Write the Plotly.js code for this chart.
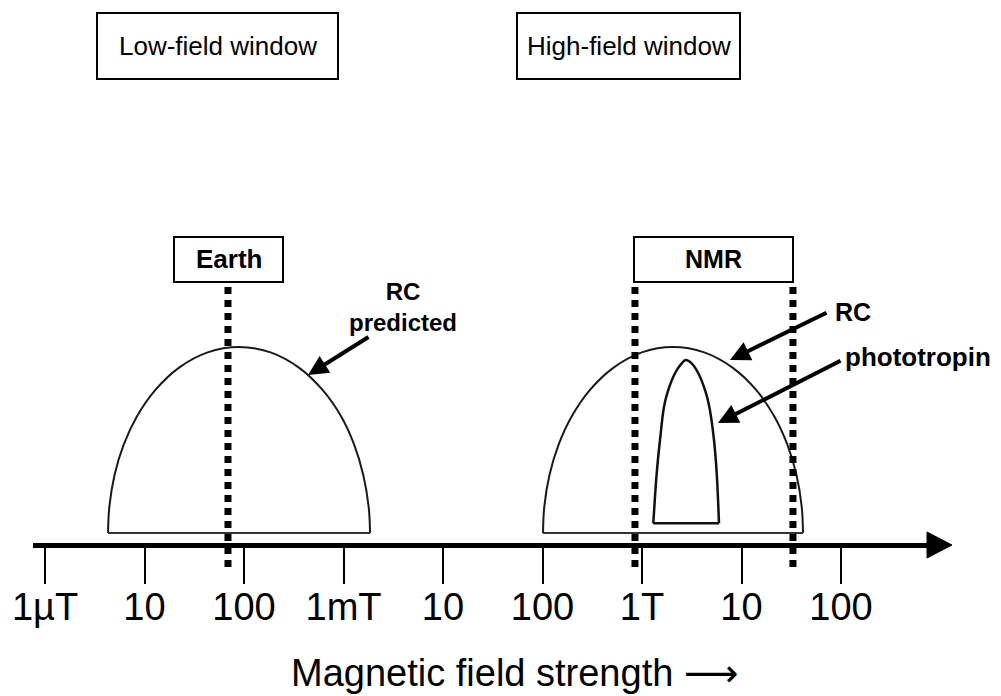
<!DOCTYPE html>
<html>
<head>
<meta charset="utf-8">
<script src="https://cdn.plot.ly/plotly-3.0.1.min.js"></script>
<style>html,body{margin:0;padding:0;background:#fff;}#chart{width:1001px;height:696px;}</style>
</head>
<body>
<div id="chart"></div>
<script>
// ---- data (field strength in tesla, response in relative units) ----
const tickFields = [1e-6, 1e-5, 1e-4, 1e-3, 1e-2, 1e-1, 1, 10, 100];
const tickLabels = ['1\u00b5T', '10', '100', '1mT', '10', '100', '1T', '10', '100'];

const rcPredictedField = [4.30e-6, 4.43e-6, 5.00e-6, 6.18e-6, 8.38e-6, 1.28e-5, 2.21e-5, 4.31e-5, 8.91e-5,
                          1.85e-4, 3.59e-4, 6.19e-4, 9.48e-4, 1.28e-3, 1.58e-3, 1.79e-3, 1.85e-3];
const rcPredictedResponse = [0, 0.141, 0.312, 0.475, 0.626, 0.768, 0.888, 0.971, 1,
                             0.971, 0.888, 0.768, 0.626, 0.475, 0.312, 0.141, 0];

const rcField = [0.1012, 0.1042, 0.1175, 0.1452, 0.1963, 0.2985, 0.514, 0.995, 2.05,
                 4.22, 8.18, 14.1, 21.4, 28.9, 35.7, 40.3, 41.5];
const rcResponse = [0, 0.141, 0.312, 0.475, 0.626, 0.768, 0.888, 0.971, 1,
                    0.971, 0.888, 0.768, 0.626, 0.475, 0.312, 0.141, 0];

const phototropinField = [1.299, 1.405, 1.517, 1.664, 1.838, 2.146, 2.506, 2.749,
                          3.158, 3.68, 4.297, 4.747, 5.292, 5.636, 5.94];
const phototropinResponse = [0.052, 0.321, 0.5, 0.679, 0.769, 0.859, 0.912, 0.930,
                             0.912, 0.859, 0.769, 0.679, 0.5, 0.321, 0.052];

const earthField = [6.9e-5, 6.9e-5];
const nmrLowField = [0.85, 0.85];
const nmrHighField = [32.9, 32.9];
const markerSpan = [1.3226, -0.188];

// ---- layout helpers (pixel -> paper) ----
const W = 1001, H = 696;
const px = x => x / W;
const py = y => 1 - y / H;

const curveLine = {color: '#1a1a1a', width: 2, shape: 'spline', smoothing: 1};
const baseLine = {color: '#333', width: 2};
const dotLine = {color: '#000', width: 7, dash: '7px,6px'};

const traces = [
  {x: rcPredictedField, y: rcPredictedResponse, mode: 'lines', line: curveLine},
  {x: [rcPredictedField[0], rcPredictedField[rcPredictedField.length - 1]], y: [rcPredictedResponse[0], rcPredictedResponse[rcPredictedResponse.length - 1]], mode: 'lines', line: baseLine},
  {x: rcField, y: rcResponse, mode: 'lines', line: curveLine},
  {x: [rcField[0], rcField[rcField.length - 1]], y: [rcResponse[0], rcResponse[rcResponse.length - 1]], mode: 'lines', line: baseLine},
  {x: phototropinField, y: phototropinResponse, mode: 'lines', line: {color: '#111', width: 2.5, shape: 'spline', smoothing: 1}},
  {x: [phototropinField[0], phototropinField[phototropinField.length - 1]], y: [phototropinResponse[0], phototropinResponse[phototropinResponse.length - 1]], mode: 'lines', line: {color: '#111', width: 2.5}},
  {x: earthField, y: markerSpan, mode: 'lines', line: dotLine},
  {x: nmrLowField, y: markerSpan, mode: 'lines', line: dotLine},
  {x: nmrHighField, y: markerSpan, mode: 'lines', line: dotLine}
];

const FONT = 'Liberation Sans, Arial, Helvetica, DejaVu Sans, sans-serif';

function box(x0, y0, x1, y1) {
  return {type: 'rect', xref: 'paper', yref: 'paper', x0: px(x0), x1: px(x1), y0: py(y1), y1: py(y0),
          line: {color: '#000', width: 2}, fillcolor: 'rgba(0,0,0,0)', layer: 'above'};
}
function label(text, x, y, size, bold) {
  return {text: bold ? '<b>' + text + '</b>' : text, xref: 'paper', yref: 'paper', x: px(x), y: py(y),
          xanchor: 'center', yanchor: 'middle', showarrow: false,
          font: {family: FONT, size: size, color: '#000'}};
}
function arrow(tailX, tailY, tipX, tipY) {
  return {text: '', xref: 'paper', yref: 'paper', x: px(tipX), y: py(tipY),
          ax: tailX - tipX, ay: tailY - tipY, showarrow: true,
          arrowhead: 2, arrowsize: 1, arrowwidth: 4, arrowcolor: '#000', standoff: 0};
}

const layout = {
  width: W, height: H,
  margin: {l: 0, r: 0, t: 0, b: 0},
  paper_bgcolor: '#fff', plot_bgcolor: '#fff',
  showlegend: false,
  xaxis: {
    type: 'log', range: [-6.1206, 2.9447], domain: [33 / W, 935 / W],
    anchor: 'free', position: (H - 545) / H,
    showline: true, linewidth: 5, linecolor: '#000',
    showgrid: false, zeroline: false,
    ticks: 'outside', ticklen: 36, tickwidth: 2, tickcolor: '#000',
    tickmode: 'array', tickvals: tickFields, ticktext: tickLabels,
    ticklabelstandoff: -10,
    tickfont: {family: FONT, size: 38, color: '#000'}
  },
  yaxis: {range: [-0.8763, 2.8656], visible: false, showgrid: false, zeroline: false},
  shapes: [
    box(97, 13, 338, 79),
    box(517, 13, 740, 79),
    box(174, 237, 283, 282),
    box(634, 237, 793, 282),
    {type: 'path', xref: 'paper', yref: 'paper',
     path: 'M ' + px(927) + ',' + py(532) + ' L ' + px(952) + ',' + py(545) + ' L ' + px(927) + ',' + py(558) + ' Z',
     fillcolor: '#000', line: {color: '#000', width: 1}}
  ],
  annotations: [
    label('Low-field window', 217.5, 46, 26, false),
    label('High-field window', 628.5, 46, 26, false),
    label('Earth', 228.5, 259.5, 26, true),
    label('NMR', 713.5, 259.5, 25, true),
    label('RC<br>predicted', 403, 307, 24, true),
    label('RC', 853, 312, 25, true),
    label('phototropin', 918, 357, 26, true),
    label('Magnetic field strength \u27f6', 514, 673, 38, false),
    arrow(370, 336, 308, 375),
    arrow(828, 312, 730, 360),
    arrow(842, 360, 718, 423)
  ]
};

Plotly.newPlot('chart', traces, layout, {staticPlot: true, displayModeBar: false});
</script>
</body>
</html>
